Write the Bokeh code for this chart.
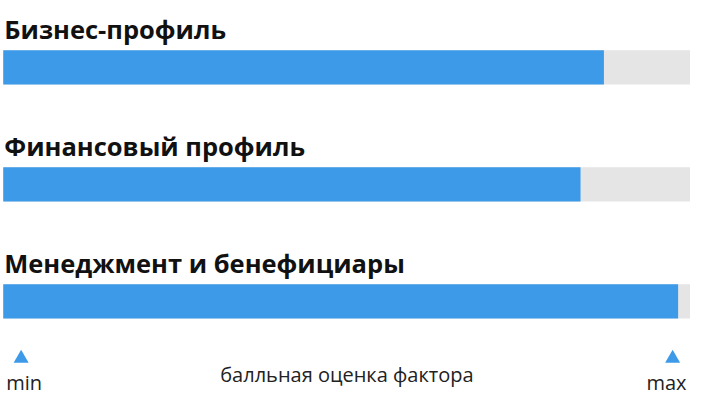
from bokeh.plotting import figure
from bokeh.models import Range1d
from bokeh.core.properties import value
from bokeh.embed import file_html
from bokeh.resources import INLINE

# factor names and their scores (0 = min, 100 = max)
factors = ["Бизнес-профиль", "Финансовый профиль", "Менеджмент и бенефициары"]
scores = [87.4, 84.0, 98.2]
scale_min, scale_max = 0, 100
scale_labels = ["min", "max"]
axis_caption = "балльная оценка фактора"

BLUE = "#3d9ae8"
TRACK = "#e5e5e5"
INK = "#111111"

row_gap = 120
bar_mid = [72.5 + row_gap * i for i in range(len(factors))]
title_base = [33 + row_gap * i for i in range(len(factors))]

p = figure(width=690, height=396, output_backend="svg", toolbar_location=None,
           x_range=Range1d(scale_min - 0.4, scale_max), y_range=Range1d(410, 4),
           min_border=0)
p.axis.visible = False
p.grid.visible = False
p.outline_line_color = None

# grey track then the score bar on top
p.hbar(y=bar_mid, left=scale_min, right=scale_max, height=35,
       fill_color=TRACK, line_color=None)
p.hbar(y=bar_mid, left=scale_min, right=scores, height=35,
       fill_color=BLUE, line_color=None)

p.text(x=scale_min, y=title_base, text=factors, text_align="left",
       text_baseline="alphabetic", text_font=value("Open Sans"),
       text_font_style="bold", text_font_size="25.5px", text_color=INK, x_offset=1)

# min / max markers under the bars
edge = 2.6
p.scatter(x=[scale_min + edge, scale_max - edge], y=[371, 371], marker="triangle",
          size=15, fill_color=BLUE, line_color=None)
p.text(x=[scale_min, scale_max], y=[396, 396], text=scale_labels,
       text_align=["left", "right"], text_baseline="alphabetic", x_offset=[3, -4],
       text_font=value("Open Sans"), text_font_size="20px", text_color="#222222")
p.text(x=[(scale_min + scale_max) / 2], y=[387], text=[axis_caption],
       text_align="center", text_baseline="alphabetic",
       text_font=value("Open Sans"), text_font_size="20px", text_color="#222222")

open("out.html", "w").write(file_html(p, INLINE))
